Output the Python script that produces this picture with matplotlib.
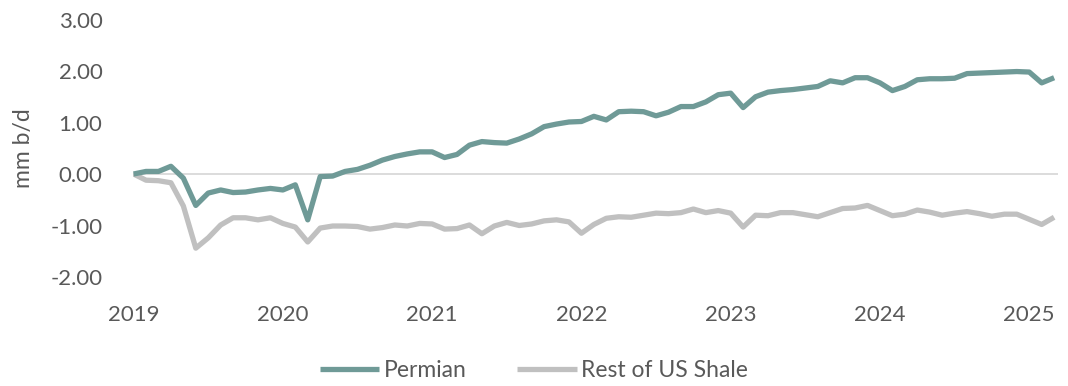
import matplotlib
matplotlib.use("Agg")
import matplotlib.pyplot as plt
import numpy as np

# monthly change since Jan 2019, mm b/d (Jan 2019 .. Mar 2025)
permian = [
    0.00, 0.05, 0.05, 0.15, -0.08, -0.61, -0.37, -0.31, -0.36, -0.35, -0.31, -0.28,
    -0.31, -0.21, -0.89, -0.05, -0.04, 0.05, 0.09, 0.17, 0.27, 0.34, 0.39, 0.43,
    0.43, 0.32, 0.38, 0.56, 0.63, 0.61, 0.60, 0.68, 0.78, 0.92, 0.97, 1.01,
    1.02, 1.12, 1.05, 1.21, 1.22, 1.21, 1.13, 1.20, 1.31, 1.31, 1.40, 1.54,
    1.57, 1.29, 1.50, 1.59, 1.62, 1.64, 1.67, 1.70, 1.81, 1.77, 1.87, 1.87,
    1.77, 1.62, 1.70, 1.83, 1.85, 1.85, 1.86, 1.95, 1.96, 1.97, 1.98, 1.99,
    1.98, 1.77, 1.87,
]
rest_of_shale = [
    0.00, -0.12, -0.13, -0.17, -0.62, -1.44, -1.24, -0.99, -0.85, -0.85, -0.89, -0.85,
    -0.96, -1.03, -1.32, -1.05, -1.01, -1.01, -1.02, -1.07, -1.04, -0.99, -1.01, -0.96,
    -0.97, -1.07, -1.06, -0.99, -1.16, -1.01, -0.94, -1.00, -0.97, -0.91, -0.89, -0.93,
    -1.15, -0.98, -0.86, -0.83, -0.84, -0.80, -0.76, -0.77, -0.75, -0.68, -0.75, -0.71,
    -0.76, -1.03, -0.80, -0.81, -0.75, -0.75, -0.79, -0.83, -0.75, -0.67, -0.66, -0.61,
    -0.71, -0.81, -0.78, -0.70, -0.74, -0.80, -0.76, -0.73, -0.77, -0.82, -0.78, -0.78,
    -0.88, -0.98, -0.84,
]
years = ["2019", "2020", "2021", "2022", "2023", "2024", "2025"]
y_ticks = [-2, -1, 0, 1, 2, 3]

TEXT = "#595959"
plt.rcParams["font.family"] = ["Lato", "DejaVu Sans"]

fig = plt.figure(figsize=(10.68, 3.86), dpi=100)
ax = fig.add_axes([0.1245, 0.2824, 0.866, 0.667])

x = np.arange(len(permian))
ax.axhline(0, color="#d9d9d9", lw=1.3, zorder=1)
ax.plot(x, permian, color="#6f9a97", lw=3.8, label="Permian", zorder=3,
        solid_joinstyle="round", solid_capstyle="butt")
ax.plot(x, rest_of_shale, color="#c0c0c0", lw=3.8, label="Rest of US Shale", zorder=2,
        solid_joinstyle="round", solid_capstyle="butt")

ax.set_xlim(-0.05, 74.3)
ax.set_ylim(-2, 3)
ax.set_yticks(y_ticks)
ax.set_yticklabels([f"{v:.2f}" for v in y_ticks])
ax.set_xticks(np.arange(len(years)) * 12)
ax.set_xticklabels(years)
ax.tick_params(axis="both", length=0, labelsize=16, colors=TEXT)
ax.tick_params(axis="x", pad=20)
ax.tick_params(axis="y", pad=22)
for s in ax.spines.values():
    s.set_visible(False)
ax.set_ylabel("mm b/d", fontsize=16.5, color=TEXT, labelpad=12)

fig.legend(loc="center", bbox_to_anchor=(0.5, 0.041), ncol=2, frameon=False,
           fontsize=16.5, handlelength=2.6, handletextpad=0.2, columnspacing=2.2,
           labelcolor=TEXT)

fig.savefig("out.png")
